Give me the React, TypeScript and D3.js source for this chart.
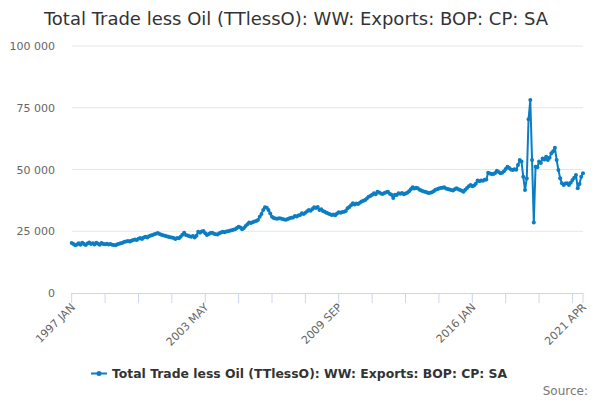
import React from "react";
import * as d3 from "d3";

const title = "Total Trade less Oil (TTlessO): WW: Exports: BOP: CP: SA";
const seriesName = "Total Trade less Oil (TTlessO): WW: Exports: BOP: CP: SA";
const startYear = 1997;
const monthNames = ["JAN", "FEB", "MAR", "APR", "MAY", "JUN", "JUL", "AUG", "SEP", "OCT", "NOV", "DEC"];

const values: number[] = [
  // 1997
  20200, 19800, 19300, 19600, 20100, 19500, 20300, 19800, 19400, 20000, 20400, 19800,
  // 1998
  20100, 19600, 20300, 19900, 19500, 20200, 19800, 19700, 19900, 19600, 19800, 19500,
  // 1999
  19400, 19300, 19700, 19900, 20100, 20300, 20700, 20900, 21100, 20800, 21200, 21500,
  // 2000
  21700, 21500, 22000, 22300, 21900, 22500, 22800, 22500, 23000, 23300, 23500, 23800,
  // 2001
  24000, 24300, 23900, 23600, 23400, 23200, 23000, 22800, 22600, 22500, 22300, 21900,
  // 2002
  22300, 22200, 22800, 23600, 24400, 23500, 23300, 23000, 22800, 23100, 22500, 23200,
  // 2003
  24800, 24400, 24900, 25100, 24200, 23500, 23900, 24300, 24400, 24000, 23800, 23700,
  // 2004
  24200, 24500, 24800, 24600, 24900, 25000, 25200, 25400, 25600, 25800, 26300, 26800,
  // 2005
  26500, 25800, 26300, 27100, 27800, 28500, 28300, 28600, 28900, 29100, 29600, 30900,
  // 2006
  32000, 33600, 34700, 34500, 33600, 32200, 30900, 30400, 30200, 30100, 30300, 30200,
  // 2007
  30000, 29800, 29700, 30000, 30300, 30500, 30600, 31200, 31000, 31400, 31600, 32300,
  // 2008
  32000, 32500, 33100, 33600, 33300, 34000, 34700, 34400, 34800, 33600, 33900, 33200,
  // 2009
  32900, 32500, 32200, 31900, 31600, 31800, 31500, 32200, 32700, 32500, 32800, 32900,
  // 2010
  33200, 34300, 34800, 35500, 36300, 35800, 36200, 36000, 36500, 37000, 37300, 37700,
  // 2011
  38300, 39000, 39300, 39800, 40400, 40000, 41000, 40700, 40300, 40100, 40500, 40800,
  // 2012
  41000, 40200, 39800, 38500, 39800, 39700, 40400, 40200, 40500, 40000, 40300, 40600,
  // 2013
  41200, 42000, 42800, 42300, 42600, 42400, 41800, 41500, 41200, 41000, 40800, 40500,
  // 2014
  40600, 40800, 41200, 41800, 42000, 42300, 42500, 42600, 42800, 42300, 42100, 41900,
  // 2015
  41700, 41500, 42000, 42400, 42000, 41700, 41400, 41000, 41800, 42500, 43200, 43700,
  // 2016
  43200, 43500, 44200, 45500, 45200, 45500, 45400, 45800, 46000, 48700, 48400, 48200,
  // 2017
  48200, 48600, 49500, 49000, 48500, 48700, 49300, 50200, 51100, 50600, 50000, 49800,
  // 2018
  50100, 49900, 51800, 53800, 53200, 47100, 41700, 46400, 70300, 78100, 53800, 28500,
  // 2019
  51100, 50900, 53200, 52600, 54500, 54000, 55200, 53800, 54800, 56600, 57400, 58800,
  // 2020
  53800, 49800, 46500, 44400, 43700, 44300, 44400, 43700, 44600, 45700, 46700, 47800,
  // 2021
  42400, 44100, 47100, 48500,
];

const yTicks = [0, 25000, 50000, 75000, 100000];
const xTickStep = 19;
const xLabelIndices = [0, 76, 152, 228, 291];

const W = 600;
const H = 400;
const color = "#0b7ec3";

function monthLabel(i: number) {
  const y = startYear + Math.floor(i / 12);
  return `${y} ${monthNames[i % 12]}`;
}

export default function App() {
  const n = values.length;
  const x = d3.scaleLinear().domain([0, n - 1]).range([71.7, 583]);
  const y = d3.scaleLinear().domain([0, 100000]).range([293, 46]);
  const locale = d3.formatLocale({ decimal: ".", thousands: " ", grouping: [3], currency: ["", ""] });
  const fmt = locale.format(",");
  const line = d3
    .line<number>()
    .x((_, i) => x(i))
    .y((d) => y(d));

  const tickIdx: number[] = [];
  for (let i = 0; i < n; i += xTickStep) tickIdx.push(i);
  if (tickIdx[tickIdx.length - 1] !== n - 1) tickIdx.push(n - 1);

  const font = "DejaVu Sans, sans-serif";
  const [x0, x1] = x.range();
  const y0 = y(0);

  return (
    <svg
      width={W}
      height={H}
      style={{ position: "absolute", left: 0, top: 0, background: "#fff" }}
      fontFamily={font}
    >
      <text x={296} y={25} textAnchor="middle" fontSize={18} fill="#333">
        {title}
      </text>
      {yTicks.map((t) => (
        <g key={t}>
          {t !== 0 && <line x1={x0} x2={x1} y1={y(t)} y2={y(t)} stroke="#e6e6e6" strokeWidth={1} />}
          <text x={55} y={y(t) + 4} textAnchor="end" fontSize={11} fill="#666">
            {fmt(t)}
          </text>
        </g>
      ))}
      <line x1={x0} x2={x1} y1={y0 + 0.5} y2={y0 + 0.5} stroke="#ccd6eb" strokeWidth={1} />
      {tickIdx.map((i) => (
        <line key={i} x1={x(i)} x2={x(i)} y1={y0} y2={y0 + 10} stroke="#ccd6eb" strokeWidth={1} />
      ))}
      {xLabelIndices.map((i) => (
        <text
          key={i}
          transform={`translate(${x(i) + 4},${y0 + 15}) rotate(-45)`}
          textAnchor="end"
          fontSize={11}
          fill="#666"
        >
          {monthLabel(i)}
        </text>
      ))}
      <path d={line(values) || ""} fill="none" stroke={color} strokeWidth={2} strokeLinejoin="round" />
      {values.map((v, i) => (
        <circle key={i} cx={x(i)} cy={y(v)} r={2} fill={color} />
      ))}
      <g>
        <line x1={91} x2={107} y1={373.5} y2={373.5} stroke={color} strokeWidth={2} />
        <circle cx={99} cy={373.5} r={2.5} fill={color} />
        <text x={112} y={378} fontSize={12.4} fontWeight="bold" fill="#333">
          {seriesName}
        </text>
      </g>
      <text x={588} y={395} textAnchor="end" fontSize={12} fill="#777">
        Source:
      </text>
    </svg>
  );
}
